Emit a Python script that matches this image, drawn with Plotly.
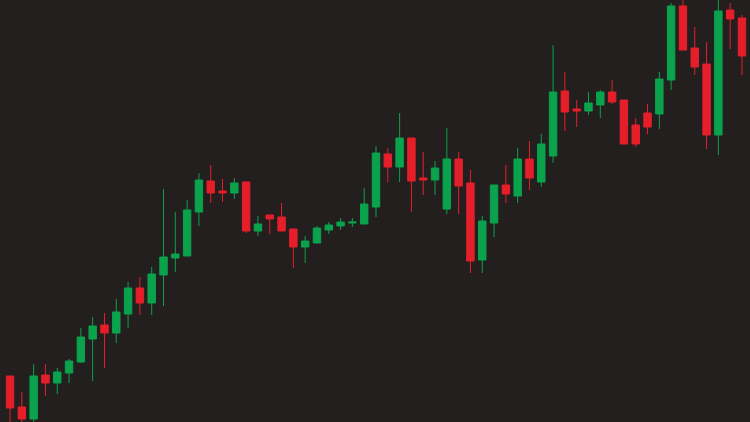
import plotly.graph_objects as go

# price values (arbitrary units, 0 = bottom edge)
opens = [46, 15, 3, 47, 39, 49, 60, 83, 97, 89, 108, 134, 119, 147, 164, 166, 210,
         241, 231, 229, 240, 191, 207, 205, 193, 175, 179, 192, 196, 199, 198, 215,
         268, 255, 284, 244, 242, 213, 263, 239, 162, 199, 237, 226, 263, 240, 266,
         331, 313, 311, 317, 330, 322, 297, 309, 308, 342, 416, 374, 358, 287, 412, 404]
highs = [46, 30, 58, 58, 54, 63, 94, 105, 109, 123, 140, 145, 155, 233, 210, 222, 249,
         257, 243, 244, 241, 206, 207, 219, 193, 186, 196, 200, 204, 204, 234, 276,
         274, 309, 284, 270, 261, 294, 270, 252, 206, 237, 257, 274, 281, 288, 377,
         350, 322, 330, 332, 342, 322, 304, 318, 350, 419, 422, 395, 380, 422, 419, 407]
lows = [-2, -4, 0, 26, 28, 39, 59, 41, 54, 79, 94, 107, 107, 116, 150, 166, 196,
        219, 220, 223, 189, 186, 188, 191, 154, 159, 179, 188, 192, 195, 198, 205,
        240, 240, 210, 227, 227, 208, 208, 149, 149, 185, 219, 219, 232, 235, 259,
        291, 295, 307, 304, 318, 278, 275, 288, 293, 332, 372, 347, 273, 267, 373, 347]
closes = [14, 3, 46, 39, 50, 61, 85, 96, 89, 110, 134, 119, 148, 165, 168, 212, 242,
          229, 229, 239, 191, 198, 203, 191, 175, 181, 194, 197, 200, 200, 218, 269,
          255, 284, 241, 242, 254, 263, 236, 161, 201, 237, 228, 263, 244, 278, 330,
          310, 311, 319, 330, 320, 278, 278, 295, 343, 416, 372, 355, 287, 411, 403, 366]

idx = list(range(len(opens)))

GREEN = "#0aa24c"
RED = "#e51f2a"
BG = "#231f1f"

fig = go.Figure(go.Candlestick(
    x=idx,
    open=opens,
    high=highs,
    low=lows,
    close=closes,
    increasing=dict(line=dict(color=GREEN, width=1), fillcolor=GREEN),
    decreasing=dict(line=dict(color=RED, width=1), fillcolor=RED),
    whiskerwidth=0,
    hoverinfo="skip",
))

fig.update_layout(
    width=750,
    height=422,
    paper_bgcolor=BG,
    plot_bgcolor=BG,
    margin=dict(l=0, r=0, t=0, b=0),
    showlegend=False,
    boxgap=0.1,
)
fig.update_xaxes(
    type="linear",
    range=[-0.85, 62.68],
    visible=False,
    showgrid=False,
    zeroline=False,
    rangeslider_visible=False,
)
fig.update_yaxes(
    range=[0, 422],
    visible=False,
    showgrid=False,
    zeroline=False,
)

# page has a default body margin; drop it so the chart fills the window
fig.write_html(
    "out.html",
    config={"displayModeBar": False},
    post_script="document.body.style.margin='0';document.body.style.background='%s';" % BG,
)
